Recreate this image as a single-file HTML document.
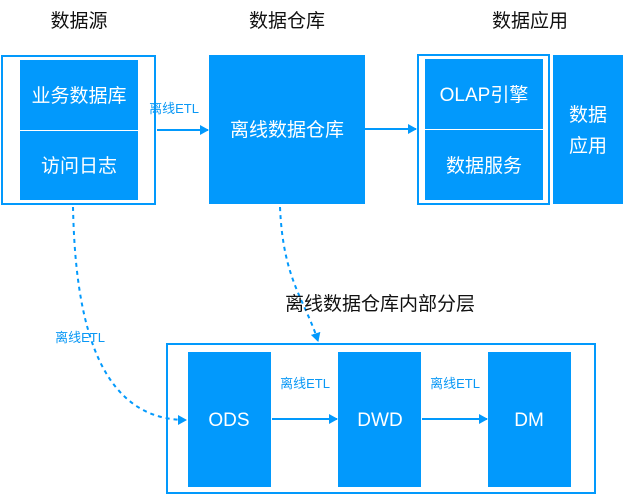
<!DOCTYPE html>
<html><head><meta charset="utf-8"><style>
html,body{margin:0;padding:0;background:#fff;}
svg{display:block;}
text{font-family:"Liberation Sans","Noto Sans CJK SC",sans-serif;}
.w{fill:#fff;font-size:19px;text-anchor:middle;}
.h{fill:#111;font-size:19px;text-anchor:middle;}
.l{fill:#0a98f5;font-size:13px;text-anchor:middle;}
</style></head><body>
<svg width="624" height="496" viewBox="0 0 624 496" xmlns="http://www.w3.org/2000/svg">
<defs><marker id="a" markerWidth="10" markerHeight="10" refX="8" refY="5" orient="auto" markerUnits="userSpaceOnUse"><path d="M0,0 L9,5 L0,10 z" fill="#0299fc"/></marker></defs>
<text class="h" x="79" y="27">数据源</text>
<text class="h" x="287" y="27">数据仓库</text>
<text class="h" x="530" y="27">数据应用</text>
<!-- left -->
<rect x="2" y="56" width="153" height="148" fill="none" stroke="#0299fc" stroke-width="2"/>
<rect x="20" y="60" width="118" height="140" fill="#0299fc"/>
<line x1="20" y1="130.5" x2="138" y2="130.5" stroke="#fff" stroke-width="1"/>
<text class="w" x="79" y="102">业务数据库</text>
<text class="w" x="79" y="172">访问日志</text>
<!-- middle -->
<rect x="209" y="55" width="156" height="149" fill="#0299fc"/>
<text class="w" x="287" y="136">离线数据仓库</text>
<line x1="157" y1="130" x2="208" y2="130" stroke="#0299fc" stroke-width="2" marker-end="url(#a)"/>
<text class="l" x="174" y="113">离线ETL</text>
<line x1="365" y1="129" x2="416" y2="129" stroke="#0299fc" stroke-width="2" marker-end="url(#a)"/>
<!-- right -->
<rect x="418" y="55" width="131" height="149" fill="none" stroke="#0299fc" stroke-width="2"/>
<rect x="425" y="59" width="118" height="141" fill="#0299fc"/>
<line x1="425" y1="129.5" x2="543" y2="129.5" stroke="#fff" stroke-width="1"/>
<text class="w" x="484" y="101">OLAP引擎</text>
<text class="w" x="484" y="172">数据服务</text>
<rect x="553" y="55" width="70" height="149" fill="#0299fc"/>
<text class="w" x="588" y="121">数据</text>
<text class="w" x="588" y="152">应用</text>
<!-- dashed -->
<path d="M73,207 C75,300 90,420 186,420" fill="none" stroke="#0299fc" stroke-width="2" stroke-dasharray="4,4" marker-end="url(#a)"/>
<text class="l" x="80" y="342">离线ETL</text>
<path d="M280,207 C283,280 305,300 318,341" fill="none" stroke="#0299fc" stroke-width="2" stroke-dasharray="4,4" marker-end="url(#a)"/>
<text class="h" x="380" y="310">离线数据仓库内部分层</text>
<!-- bottom -->
<rect x="167" y="344" width="428" height="149" fill="none" stroke="#0299fc" stroke-width="2"/>
<rect x="188" y="352" width="83" height="135" fill="#0299fc"/>
<rect x="338" y="352" width="83" height="135" fill="#0299fc"/>
<rect x="488" y="352" width="83" height="135" fill="#0299fc"/>
<text class="w" x="229" y="426">ODS</text>
<text class="w" x="380" y="426">DWD</text>
<text class="w" x="529" y="426">DM</text>
<line x1="272" y1="419" x2="337" y2="419" stroke="#0299fc" stroke-width="2" marker-end="url(#a)"/>
<line x1="422" y1="419" x2="487" y2="419" stroke="#0299fc" stroke-width="2" marker-end="url(#a)"/>
<text class="l" x="305" y="388">离线ETL</text>
<text class="l" x="455" y="388">离线ETL</text>
</svg>
</body></html>
